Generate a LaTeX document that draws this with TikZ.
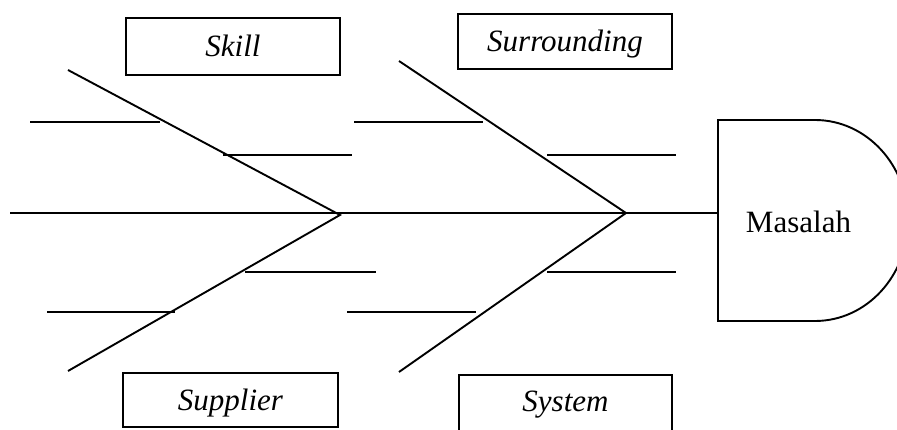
\documentclass[tikz,border=0pt]{standalone}
\usepackage{fontspec}
\setmainfont{Liberation Serif}
\begin{document}
\begin{tikzpicture}[x=1pt,y=-1pt,
  bone/.style={line width=1.9pt},
  catbox/.style={draw, line width=1.9pt, inner sep=0pt, outer sep=0pt,
    font=\fontsize{31}{36}\selectfont\itshape, text height=21pt, text depth=0pt},
  headtext/.style={inner sep=0pt, font=\fontsize{31}{36}\selectfont, text height=21pt, text depth=0pt}]
\clip (0,0) rectangle (897,430);
\fill[white] (0,0) rectangle (897,430);

% category boxes
\node[catbox, minimum width=214pt, minimum height=57pt] (skill) at (233,46.5) {Skill};
\node[catbox, minimum width=214pt, minimum height=55pt] (surr) at (565,41.5) {Surrounding};
\node[catbox, minimum width=215pt, minimum height=54pt] (supp) at (230.5,400) {Supplier};
\node[catbox, minimum width=213pt, minimum height=62pt, text depth=10pt] (sys) at (565.5,406) {System};

% head (problem)
\draw[bone] (718,120) -- (815,120)
  .. controls (866.4,120) and (908,165) .. (908,220.5)
  .. controls (908,276) and (866.4,321) .. (815,321)
  -- (718,321) -- cycle;
\node[headtext] (masalah) at (798.5,222) {Masalah};

% spine
\coordinate (tail) at (10,213);
\coordinate (head) at (718,213);
\draw[bone] (tail) -- (head);

% left fishbone
\coordinate (lapex) at (340,215);
\coordinate (lup) at (68,70);
\coordinate (llow) at (68,371);
\draw[bone] (lup) -- (lapex) -- (llow);
\coordinate (l1a) at (30,122);  \coordinate (l1b) at (160,122);
\coordinate (l2a) at (223,155); \coordinate (l2b) at (352,155);
\coordinate (l3a) at (245,272); \coordinate (l3b) at (376,272);
\coordinate (l4a) at (47,312);  \coordinate (l4b) at (175,312);
\draw[bone] (l1a) -- (l1b);
\draw[bone] (l2a) -- (l2b);
\draw[bone] (l3a) -- (l3b);
\draw[bone] (l4a) -- (l4b);

% right fishbone
\coordinate (rapex) at (626,213);
\coordinate (rup) at (399,61);
\coordinate (rlow) at (399,372);
\draw[bone] (rup) -- (rapex) -- (rlow);
\coordinate (r1a) at (354,122); \coordinate (r1b) at (483,122);
\coordinate (r2a) at (547,155); \coordinate (r2b) at (676,155);
\coordinate (r3a) at (547,272); \coordinate (r3b) at (676,272);
\coordinate (r4a) at (347,312); \coordinate (r4b) at (476,312);
\draw[bone] (r1a) -- (r1b);
\draw[bone] (r2a) -- (r2b);
\draw[bone] (r3a) -- (r3b);
\draw[bone] (r4a) -- (r4b);
\end{tikzpicture}
\end{document}
